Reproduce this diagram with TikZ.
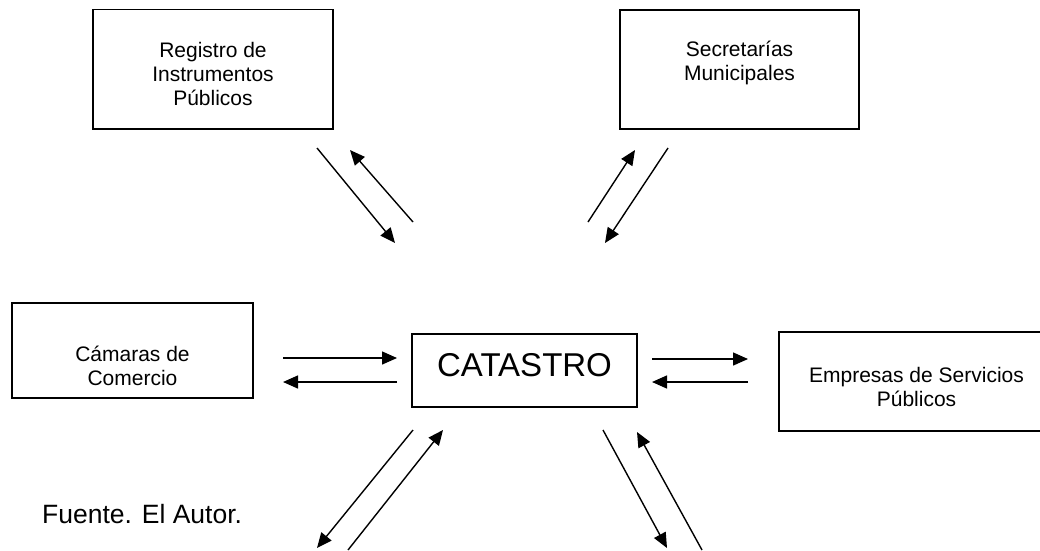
\documentclass[tikz,border=0pt]{standalone}
\usepackage{fontspec}
\setmainfont{Liberation Sans}
\usetikzlibrary{arrows.meta, positioning}
\tikzset{caja/.style = {draw, line width=1.6pt, inner sep=0pt, align=center,
                        font=\fontsize{21}{24}\selectfont},
         flecha/.style = {line width=1.4pt, -{Triangle[length=15pt, width=13pt]}}}
\newcommand{\txt}[2]{\raisebox{#1}[\height][\depth]{\begin{tabular}{@{}c@{}}#2\end{tabular}}}

\begin{document}
\begin{tikzpicture}[x=1pt, y=-1pt]
    \useasboundingbox (0,0) rectangle (1040,550);

    \node[caja, minimum width=240, minimum height=119.5] (reg) at (213,69.25)
        {\txt{-7.5pt}{Registro de\\Instrumentos\\Públicos}};
    \node[caja, minimum width=239, minimum height=119] (sec) at (739.5,69.5)
        {\txt{5.8pt}{Secretarías\\Municipales}};
    \node[caja, minimum width=241, minimum height=95] (cam) at (132.5,350.5)
        {\txt{-18pt}{Cámaras de\\Comercio}};
    \node[caja, minimum width=225, minimum height=73, font=\fontsize{33}{38}\selectfont] (cat) at (524.5,370.5)
        {\txt{1.3pt}{CATASTRO}};
    % la caja sigue fuera del borde derecho
    \node[caja, draw=none, minimum width=273, minimum height=97] (emp) at (916.5,381.5)
        {\txt{-7.7pt}{Empresas de Servicios\\Públicos}};
    \draw[line width=1.6pt] (emp.north west) ++(300,0) -- (emp.north west) -- (emp.south west) -- ++(300,0);
    \node[anchor=base west, inner sep=0pt, font=\fontsize{26.5}{30}\selectfont] (fte) at (42,523)
        {Fuente. El Autor.};

    % extremos de las flechas
    \coordinate (r1) at (317,148);  \coordinate (r2) at (395,243);
    \coordinate (r3) at (413,222);  \coordinate (r4) at (350,150);
    \coordinate (s1) at (588,222);  \coordinate (s2) at (635,150);
    \coordinate (s3) at (668,148);  \coordinate (s4) at (605,243);
    \coordinate (c1) at (283,358);  \coordinate (c2) at (397,358);
    \coordinate (c3) at (397,382);  \coordinate (c4) at (283,382);
    \coordinate (e1) at (652,359);  \coordinate (e2) at (748,359);
    \coordinate (e3) at (748,382);  \coordinate (e4) at (652,382);
    \coordinate (i1) at (413,430);  \coordinate (i2) at (317,548);
    \coordinate (i3) at (348,550);  \coordinate (i4) at (443,430);
    \coordinate (d1) at (603,430);  \coordinate (d2) at (667,548);
    \coordinate (d3) at (702,550);  \coordinate (d4) at (637,432);

    \foreach \a/\b in {r1/r2, r3/r4, s1/s2, s3/s4, c1/c2, c3/c4,
                       e1/e2, e3/e4, i1/i2, i3/i4, d1/d2, d3/d4}
        \draw[flecha] (\a) -- (\b);
\end{tikzpicture}
\end{document}
